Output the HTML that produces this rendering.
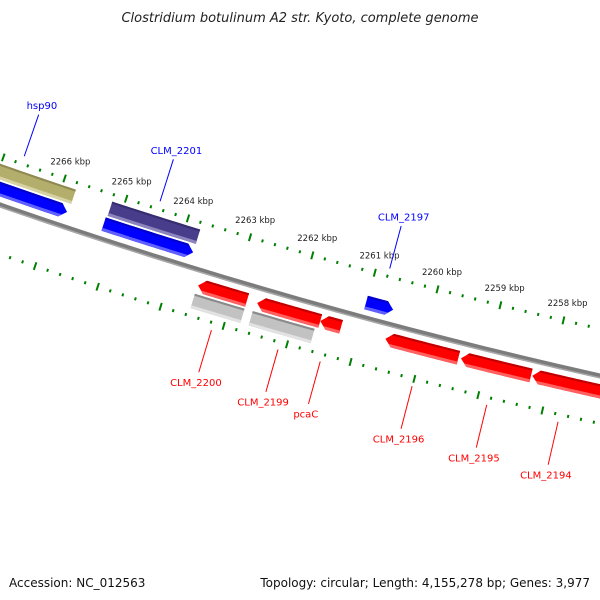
<!DOCTYPE html>
<html><head><meta charset="utf-8"><style>
html,body{margin:0;padding:0;background:#fff;}
svg{display:block;font-family:"DejaVu Sans","Liberation Sans",sans-serif;}
</style></head><body>
<svg id="map" width="600" height="600" viewBox="0 0 600 600" xmlns="http://www.w3.org/2000/svg">
<text x="300" y="22" text-anchor="middle" font-size="13" font-style="italic" fill="#222">Clostridium botulinum A2 str. Kyoto, complete genome</text>
<text x="9" y="587" font-size="12" fill="#111">Accession: NC_012563</text>
<text x="590" y="587" font-size="12" fill="#111" text-anchor="end">Topology: circular; Length: 4,155,278 bp; Genes: 3,977</text>
<defs id="defs"></defs>
<g id="plot"></g>
</svg>
<script>
// ---- data ----
const tickMajorKbp = [2256,2257,2258,2259,2260,2261,2262,2263,2264,2265,2266,2267,2268];
const tickLabels = ["2258 kbp","2259 kbp","2260 kbp","2261 kbp","2262 kbp","2263 kbp","2264 kbp","2265 kbp","2266 kbp"];
const tickLabelKbp = [2258,2259,2260,2261,2262,2263,2264,2265,2266];
const featStart = [2268.5, 2267.6, 2265.19, 2265.21, 2263.55, 2263.56, 2262.61, 2262.64, 2261.61, 2261.28, 2261.01, 2260.58, 2259.39, 2258.27];
const featEnd   = [2265.78, 2265.8, 2263.77, 2263.77, 2262.77, 2262.77, 2261.61, 2261.66, 2261.28, 2261.28, 2260.58, 2259.43, 2258.29, 2257.19];
const featTrack = [-2, -1, -2, -1, 1, 2, 1, 2, 1, 2, -1, 1, 1, 1];
const featDir   = ["none","right","none","right","left","none","left","none","left","none","right","left","left","left"];
const featKind  = ["olive","blue","purple","blue","red","lgray","red","lgray","red","dgray","blue","red","red","red"];
const featName  = ["","hsp90","","CLM_2201","CLM_2200","","CLM_2199","","pcaC","","CLM_2197","CLM_2196","CLM_2195","CLM_2194"];

// ---- geometry ----
const CX = 1800.6, CY = -4975, R = 5484;
const ANCHOR_KBP = 2264, ANCHOR_DEG = -17.25, DEG_PER_KBP = 0.6833;
function ang(k){ return (ANCHOR_DEG + (ANCHOR_KBP - k) * DEG_PER_KBP) * Math.PI / 180; }
function pt(k, r){ const a = ang(k); return [CX + r*Math.sin(a), CY + r*Math.cos(a)]; }
const NS = "http://www.w3.org/2000/svg";
const plot = document.getElementById('plot');
const defs = document.getElementById('defs');
function mk(tag, attrs, parent){ const e = document.createElementNS(NS, tag); for (const k in attrs) e.setAttribute(k, attrs[k]); (parent||plot).appendChild(e); return e; }
function arcPts(k1, k2, r){ const n = 24, out = []; for (let i=0;i<=n;i++){ const k = k1 + (k2-k1)*i/n; out.push(pt(k, r)); } return out; }
function fmt(p){ return p[0].toFixed(2)+","+p[1].toFixed(2); }

const palette = {
  blue:  ["#0000c8","#0000ff","#6060ff"],
  red:   ["#c00000","#ff0000","#ff6060"],
  purple:["#362d70","#483d8b","#8c84bc"],
  olive: ["#8f8a52","#b4ae6c","#d6d2a4"],
  lgray: ["#8a8a8a","#c2c2c2","#e2e2e2"],
  dgray: ["#404040","#666666","#959595"]
};
const trackR = { "-1":[R-22,R-8], "-2":[R-39,R-24], "1":[R+8,R+22], "2":[R+24,R+39] };

// backbone
const bb = mk('polyline', {points: arcPts(2269, 2255, R).map(fmt).join(' '), fill:'none', stroke:'#7c7c7c', 'stroke-width':5});


const bb2 = mk('polyline', {points: arcPts(2269, 2255, R+1.8).map(fmt).join(' '), fill:'none', stroke:'#a8a8a8', 'stroke-width':1.5});



// ticks
const ringR = [R-46, R+46.5];
const tickG = mk('g', {});


for (let m = 0; m < tickMajorKbp.length; m++) {
  const base = tickMajorKbp[m];
  for (let s = 0; s < 5; s++) {
    const k = base + s*0.2;
    for (const rr of ringR) {
      const len = s === 0 ? 4 : 1.5;
      const t = mk('line', {x1: pt(k, rr-len)[0], y1: pt(k, rr-len)[1], x2: pt(k, rr+len)[0], y2: pt(k, rr+len)[1], stroke:'#008000', 'stroke-width': 2}, tickG);
      
      
    }
  }
}
for (let i = 0; i < tickLabels.length; i++) {
  const p = pt(tickLabelKbp[i], R-64);
  const t = mk('text', {x: p[0].toFixed(1), y: (p[1]+3).toFixed(1), 'text-anchor':'middle', 'font-size':'8.5', fill:'#222'});
  t.textContent = tickLabels[i];
  
  
}

// features
for (let i = 0; i < featStart.length; i++) {
  const k1 = featStart[i], k2 = featEnd[i];
  const [r0, r1] = trackR[String(featTrack[i])];
  const rm = (r0 + r1) / 2;
  const h = Math.min(0.11, (k1 - k2) * 0.5);
  let pts = [];
  if (featDir[i] === 'right') {
    const kb = k2 + h;
    pts = arcPts(k1, kb, r0).concat([pt(k2, rm)]).concat(arcPts(kb, k1, r1));
  } else if (featDir[i] === 'left') {
    const ka = k1 - h;
    pts = [pt(k1, rm)].concat(arcPts(ka, k2, r0)).concat(arcPts(k2, ka, r1));
  } else {
    pts = arcPts(k1, k2, r0).concat(arcPts(k2, k1, r1));
  }
  const d = pts.map(fmt).join(' ');
  const cp = mk('clipPath', {id: 'clip'+i}, defs);
  mk('polygon', {points: d}, cp);
  const g = mk('g', {});
  
  
  const col = palette[featKind[i]];
  const body = mk('polygon', {points: d, fill: col[1]}, g);
  
  
  const dark = mk('polyline', {points: arcPts(k1+0.3, k2-0.3, r0+1).map(fmt).join(' '), fill:'none', stroke: col[0], 'stroke-width': 2.2, 'clip-path': 'url(#clip'+i+')'}, g);
  
  
  const light = mk('polyline', {points: arcPts(k1+0.3, k2-0.3, r1-1.5).map(fmt).join(' '), fill:'none', stroke: col[2], 'stroke-width': 3, 'clip-path': 'url(#clip'+i+')'}, g);
  
  

  if (featName[i]) {
    const km = (k1 + k2) / 2;
    const sgn = featTrack[i] < 0 ? -1 : 1;
    const a = pt(km, R + sgn*54), b = pt(km, R + sgn*98), c = pt(km, R + sgn*108);
    const color = featKind[i] === 'red' ? '#ff0000' : '#0000ff';
    const ln = mk('line', {x1:a[0], y1:a[1], x2:b[0], y2:b[1], stroke: color, 'stroke-width': 1}, g);
    
    
    const tx = mk('text', {x: c[0].toFixed(1), y: (c[1]+4).toFixed(1), 'text-anchor':'middle', 'font-size':'10', fill: color}, g);
    tx.textContent = featName[i];
    
    
  }
}
</script>
</body></html>
